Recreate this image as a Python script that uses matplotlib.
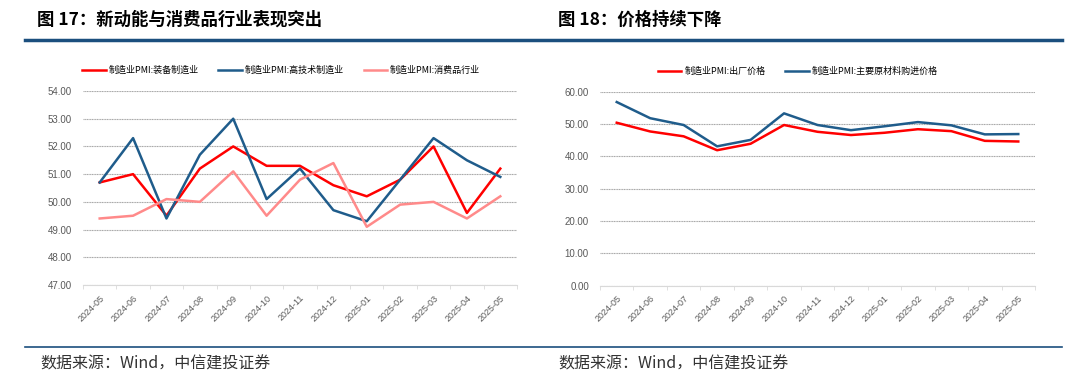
import matplotlib
matplotlib.use("Agg")
import matplotlib.pyplot as plt
from matplotlib.lines import Line2D

plt.rcParams['font.family'] = ['Noto Sans CJK SC', 'DejaVu Sans']

months = ["2024-05", "2024-06", "2024-07", "2024-08", "2024-09", "2024-10", "2024-11",
          "2024-12", "2025-01", "2025-02", "2025-03", "2025-04", "2025-05"]

# Chart 17
equip = [50.7, 51.0, 49.5, 51.2, 52.0, 51.3, 51.3, 50.6, 50.2, 50.8, 52.0, 49.6, 51.2]
hitech = [50.7, 52.3, 49.4, 51.7, 53.0, 50.1, 51.2, 49.7, 49.3, 50.8, 52.3, 51.5, 50.9]
consumer = [49.4, 49.5, 50.1, 50.0, 51.1, 49.5, 50.8, 51.4, 49.1, 49.9, 50.0, 49.4, 50.2]
left_labels = ["制造业PMI:装备制造业", "制造业PMI:高技术制造业", "制造业PMI:消费品行业"]
left_yticks = [47, 48, 49, 50, 51, 52, 53, 54]

# Chart 18
output_price = [50.4, 47.7, 46.2, 41.9, 43.9, 49.7, 47.6, 46.6, 47.3, 48.4, 47.8, 44.8, 44.6]
input_price = [56.8, 51.8, 49.7, 43.1, 45.1, 53.3, 49.7, 48.1, 49.3, 50.6, 49.6, 46.8, 46.9]
right_labels = ["制造业PMI:出厂价格", "制造业PMI:主要原材料购进价格"]
right_yticks = [0, 10, 20, 30, 40, 50, 60]

W, H = 1080, 386
fig = plt.figure(figsize=(W / 100, H / 100), dpi=100)

RED = "#FF0000"
BLUE = "#1F5C8B"
PINK = "#FF8A8A"
DARK = "#1B4F7E"
GRAY = "#7F7F7F"


def px_axes(x0, y0, x1, y1):
    return fig.add_axes([x0 / W, 1 - y1 / H, (x1 - x0) / W, (y1 - y0) / H])


def style(ax, yticks, ylim):
    ax.set_xlim(-0.5, len(months) - 0.5)
    ax.set_ylim(*ylim)
    ax.set_yticks(yticks)
    ax.set_yticklabels([f"{v:.2f}" for v in yticks], fontsize=7, color="#595959",
                       family=['Liberation Sans', 'DejaVu Sans'])
    ax.set_xticks(range(len(months)))
    ax.set_xticklabels(months, rotation=45, fontsize=6.5, color="#595959",
                       family=['Liberation Sans', 'DejaVu Sans'], ha="right",
                       rotation_mode="anchor")
    ax.set_xticks([i - 0.5 for i in range(len(months) + 1)], minor=True)
    ax.tick_params(axis="x", which="major", length=0, pad=6)
    ax.tick_params(axis="x", which="minor", length=3, color="#D9D9D9")
    ax.tick_params(axis="y", length=0, pad=8)
    for s in ["top", "right", "left"]:
        ax.spines[s].set_visible(False)
    ax.spines["bottom"].set_color("#D9D9D9")
    ax.yaxis.grid(True, color="#A6A6A6", linewidth=0.8, linestyle=(0, (1, 0.5)))
    ax.set_axisbelow(True)


x = list(range(len(months)))

ax1 = px_axes(83, 91, 517, 285)
l1, = ax1.plot(x, equip, color=RED, lw=1.8)
l2, = ax1.plot(x, hitech, color=BLUE, lw=1.8)
l3, = ax1.plot(x, consumer, color=PINK, lw=1.8)
style(ax1, left_yticks, (47, 54))
ax1.legend([l1, l2, l3], left_labels, loc="center left", bbox_to_anchor=(-0.01, 1.105),
           ncol=3, frameon=False, fontsize=6.5, handlelength=2.6, handletextpad=0.3,
           columnspacing=2.2, borderaxespad=0)

ax2 = px_axes(600, 91.7, 1035, 285.7)
m1, = ax2.plot(x, output_price, color=RED, lw=1.8)
m2, = ax2.plot(x, input_price, color=BLUE, lw=1.8)
style(ax2, right_yticks, (0, 60))
ax2.legend([m1, m2], right_labels, loc="center left", bbox_to_anchor=(0.125, 1.105),
           ncol=2, frameon=False, fontsize=6.5, handlelength=2.6, handletextpad=0.3,
           columnspacing=2.2, borderaxespad=0)

# Titles
fig.text(37 / W, 1 - 20 / H, "图 17：新动能与消费品行业表现突出", fontsize=12.5,
         fontweight="bold", va="center", ha="left")
fig.text(558 / W, 1 - 20 / H, "图 18：价格持续下降", fontsize=12.5,
         fontweight="bold", va="center", ha="left")

# Header / footer lines
fig.add_artist(Line2D([25 / W, 1062 / W], [1 - 40 / H, 1 - 40 / H], color=DARK, lw=2.5))
fig.add_artist(Line2D([25 / W, 1062 / W], [1 - 347 / H, 1 - 347 / H], color=DARK, lw=1.2))

fig.text(40 / W, 1 - 364 / H, "数据来源：Wind，中信建投证券", fontsize=11.5, style="italic",
         va="center", ha="left", color="#333333")
fig.text(558 / W, 1 - 364 / H, "数据来源：Wind，中信建投证券", fontsize=11.5, style="italic",
         va="center", ha="left", color="#333333")

fig.savefig("out.png", dpi=100)
